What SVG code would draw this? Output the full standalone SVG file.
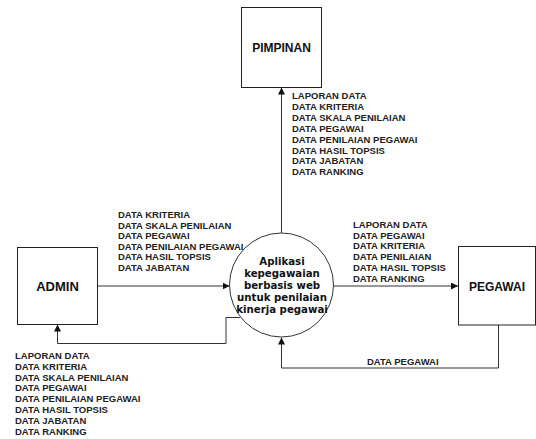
<svg xmlns="http://www.w3.org/2000/svg" width="536" height="439" viewBox="0 0 536 439">
<defs>
<marker id="arr" viewBox="0 0 10 10" refX="10" refY="5" markerWidth="7" markerHeight="7" markerUnits="userSpaceOnUse" orient="auto">
<path d="M0,0 L10,5 L0,10 z" fill="#111"/>
</marker>
</defs>
<style>
.box{fill:#fff;stroke:#222;stroke-width:1}
.ent{font-family:"Liberation Sans",Arial,sans-serif;font-weight:bold;font-size:12px;fill:#111;text-anchor:middle}
.lbl{font-family:"Liberation Sans",Arial,sans-serif;font-weight:bold;font-size:9.5px;fill:#222}
.proc{font-family:"DejaVu Sans",Verdana,sans-serif;font-weight:bold;font-size:10.2px;fill:#111;text-anchor:middle}
.flow{fill:none;stroke:#333;stroke-width:1;marker-end:url(#arr)}
</style>
<rect width="536" height="439" fill="#fff"/>
<g id="connectors">
<path class="flow" d="M281.5,233 L281.5,87.5"/>
<path class="flow" d="M97,286 L229.5,286"/>
<path class="flow" d="M333.5,286 L458,286"/>
<path class="flow" d="M498.5,325 L498.5,368 L281.5,368 L281.5,337.5"/>
<path class="flow" d="M240,317.5 L226,317.5 L226,343.5 L57.5,343.5 L57.5,324.5"/>
</g>
<g id="labels">
<text class="lbl" x="292" y="99"><tspan x="292">LAPORAN DATA</tspan><tspan x="292" dy="10.9">DATA KRITERIA</tspan><tspan x="292" dy="10.9">DATA SKALA PENILAIAN</tspan><tspan x="292" dy="10.9">DATA PEGAWAI</tspan><tspan x="292" dy="10.9">DATA PENILAIAN PEGAWAI</tspan><tspan x="292" dy="10.9">DATA HASIL TOPSIS</tspan><tspan x="292" dy="10.9">DATA JABATAN</tspan><tspan x="292" dy="10.9">DATA RANKING</tspan></text>
<text class="lbl" x="118" y="218"><tspan x="118">DATA KRITERIA</tspan><tspan x="118" dy="10.6">DATA SKALA PENILAIAN</tspan><tspan x="118" dy="10.6">DATA PEGAWAI</tspan><tspan x="118" dy="10.6">DATA PENILAIAN PEGAWAI</tspan><tspan x="118" dy="10.6">DATA HASIL TOPSIS</tspan><tspan x="118" dy="10.6">DATA JABATAN</tspan></text>
<text class="lbl" x="353" y="228"><tspan x="353">LAPORAN DATA</tspan><tspan x="353" dy="10.7">DATA PEGAWAI</tspan><tspan x="353" dy="10.7">DATA KRITERIA</tspan><tspan x="353" dy="10.7">DATA PENILAIAN</tspan><tspan x="353" dy="10.7">DATA HASIL TOPSIS</tspan><tspan x="353" dy="10.7">DATA RANKING</tspan></text>
<text class="lbl" x="367" y="365">DATA PEGAWAI</text>
<text class="lbl" x="15" y="359"><tspan x="15">LAPORAN DATA</tspan><tspan x="15" dy="10.8">DATA KRITERIA</tspan><tspan x="15" dy="10.8">DATA SKALA PENILAIAN</tspan><tspan x="15" dy="10.8">DATA PEGAWAI</tspan><tspan x="15" dy="10.8">DATA PENILAIAN PEGAWAI</tspan><tspan x="15" dy="10.8">DATA HASIL TOPSIS</tspan><tspan x="15" dy="10.8">DATA JABATAN</tspan><tspan x="15" dy="10.8">DATA RANKING</tspan></text>
</g>
<g id="pimpinan">
<rect class="box" x="241.5" y="7.5" width="80" height="80"/>
<text class="ent" x="281.5" y="52">PIMPINAN</text>
</g>
<g id="admin">
<rect class="box" x="17.5" y="247.5" width="80" height="77"/>
<text class="ent" x="57.5" y="291" style="font-size:13px">ADMIN</text>
</g>
<g id="pegawai">
<rect class="box" x="458.5" y="246.5" width="77" height="78.5"/>
<text class="ent" x="497" y="291">PEGAWAI</text>
</g>
<g id="proses">
<circle cx="281.5" cy="285" r="52" fill="#fff" stroke="#333" stroke-width="1"/>
<text class="proc" x="282" y="265"><tspan x="282">Aplikasi</tspan><tspan x="282" dy="12">kepegawaian</tspan><tspan x="282" dy="12">berbasis web</tspan><tspan x="282" dy="12">untuk penilaian</tspan><tspan x="282" dy="12">kinerja pegawai</tspan></text>
</g>
</svg>
